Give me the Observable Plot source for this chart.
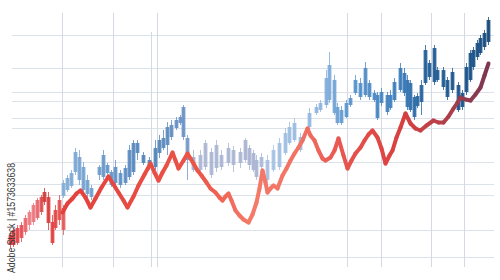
<!DOCTYPE html>
<html>
<head>
<meta charset="utf-8">
<script src="https://cdn.jsdelivr.net/npm/d3@7"></script>
<script src="https://cdn.jsdelivr.net/npm/@observablehq/plot@0.6"></script>
<style>
  html, body { margin: 0; padding: 0; background: #ffffff; }
  #chart svg { display: block; }
</style>
</head>
<body>
<div id="chart"></div>
<script>
// ---- data (time index t, price values) ----
const gridPrices = [245, 212, 188, 179, 162, 152, 118, 96, 85, 50, 23];
const gridTimes = [62, 113, 157, 347, 381, 431, 464];
const gridTimeShort = [151];
const gridRange = [13, 267];
const gridShortTop = 248;
const gridSpan = [12, 494];

// red trend line
const lineT = [62,67,72,76,80,85,90,95,101,108,113,118,123,127,133,138,144,150,154,158,162,166,172,175,178,183,187,190,193,197,201,206,210,215,219,222,225,228,231,235,239,243,248,252,256,259,262,265,267,270,273,277,282,286,290,294,298,302,307,310,314,318,322,325,330,334,338,343,347,351,355,360,364,368,372,377,381,385,389,392,396,400,405,410,415,420,426,433,438,443,448,453,457,460,465,470,475,480,484,488];
const lineV = [68,77,82,87,90,83,73,82,93,104,96,88,80,73,84,95,106,117,108,100,108,115,128,120,112,120,127,122,117,110,105,98,92,88,83,80,84,87,80,70,65,61,58,66,78,92,110,98,88,92,95,92,105,112,120,127,133,140,152,145,140,130,122,120,123,130,142,125,112,120,127,133,140,146,150,143,132,117,125,130,143,153,167,157,152,150,155,160,158,158,164,172,178,183,181,180,186,193,205,217];

// blue candles: [t, low, high, bodyLow, bodyHigh]
const blueCandles = [
  [63,82,100,84,97],[67,88,105,90,102],[71,92,110,94,107],[75,105,132,108,128],[79,95,130,100,123],
  [83,88,118,90,113],[87,83,105,86,100],[91,80,95,83,92],[99,100,115,105,113],[103,100,130,103,125],
  [107,105,117,107,115],[111,93,110,95,108],[115,95,120,97,113],[120,92,110,95,107],[125,95,115,97,112],
  [129,100,135,103,130],[133,105,140,108,137],[137,120,140,127,137],[143,115,128,117,125],[149,110,123,113,120],
  [155,110,140,113,132],[159,122,145,127,140],[163,130,150,132,142],[167,125,158,135,153],[171,140,160,143,155],
  [176,150,163,152,160],[180,155,165,157,163],[183,140,175,143,173],[187,100,145,120,142],
  [193,108,130,110,123],[200,105,130,110,125],[205,110,140,113,137],[211,102,132,105,128],[216,108,140,112,135],
  [221,110,130,113,125],[228,114,137,117,132],[233,108,134,115,130],[240,112,132,117,128],[245,118,142,120,140],
  [249,110,135,115,132],[253,108,130,110,127],[256,100,125,103,120],[261,110,127,113,123],[267,98,125,100,120],
  [273,108,135,110,130],[279,110,142,113,137],[285,125,152,127,147],[289,135,158,137,153],[294,138,162,140,157],
  [300,128,147,130,143],[309,150,172,153,167],[316,165,176,167,173],[320,168,180,170,177],[326,172,210,175,202],
  [329,177,228,180,215],[334,165,205,167,200],[337,155,177,157,173],[341,155,174,157,170],[346,162,180,163,177],
  [350,173,185,175,182],[355,185,205,187,200],[360,180,202,183,197],[365,183,218,185,212],[369,180,200,183,197],
  [374,178,190,180,187],[377,160,188,162,185],[381,174,192,177,188],[387,165,188,168,185],[390,170,190,172,185],
  [394,178,202,180,198],[400,188,217,190,212],[404,184,212,187,207],[407,170,205,173,200],[410,168,200,170,197],
  [414,160,185,163,183],[417,172,187,174,184],[421,165,200,178,195],[425,195,235,197,230],[429,200,220,203,217],
  [434,195,235,198,232],[437,198,213,200,210],[443,190,213,193,210],[447,180,203,183,200],[452,187,212,190,208],
  [458,168,198,170,195],[462,170,190,173,187],[466,185,217,188,213],[470,198,230,200,227],[473,210,233,213,230],
  [477,220,240,223,237],[480,225,245,227,242],[484,230,250,233,247],[488,235,263,238,260]
];

// red candles: [t, low, high, bodyLow, bodyHigh]
const redCandles = [
  [10,32,48,35,45],[13,33,52,35,50],[17,35,55,37,52],[21,38,58,42,55],[25,45,65,48,62],
  [29,50,70,55,68],[33,55,77,58,75],[37,60,82,62,80],[41,65,85,68,83],[44,75,92,78,88],
  [48,50,88,57,83],[52,35,65,37,58],[55,50,75,52,70],[59,55,85,60,80],[63,45,75,50,72]
];

const watermark = "Adobe Stock | #1573633638";

// ---- colours ----
const blueColor = d3.scaleLinear()
  .domain([60,100,150,186,195,255,270,320,345,400,425,470,490])
  .range(["#86aed8","#6b9acb","#4f82b8","#6f96c7","#aab6d3","#a9b4d2","#a6c2e3","#8fb4de","#5d97cf","#3b7cba","#245f98","#1a5288","#174a7c"])
  .interpolate(d3.interpolateRgb).clamp(true);
const redCandleColor = d3.scaleLinear()
  .domain([10,20,30,36,44,52,63])
  .range(["#e03a3a","#e4484c","#ee8088","#ea6a72","#d23a3a","#e03e3e","#e65a5a"])
  .clamp(true);
const lineColor = d3.scaleLinear()
  .domain([60,200,250,300,340,400,440,470,490])
  .range(["#e2403c","#ec5548","#f47a68","#f27264","#e95650","#d8403f","#b8404a","#8f3a4e","#7a3652"])
  .clamp(true);

const segs = lineT.slice(1).map((t, i) => ({
  t1: lineT[i], v1: lineV[i], t2: t, v2: lineV[i + 1]
}));

const plot = Plot.plot({
  width: 500,
  height: 280,
  margin: 0,
  style: {background: "#ffffff", fontFamily: "Liberation Sans, Arial, sans-serif"},
  x: {domain: [0, 500], axis: null},
  y: {domain: [0, 280], axis: null},
  marks: [
    Plot.ruleY(gridPrices, {x1: gridSpan[0], x2: gridSpan[1], stroke: "#dce2e9", strokeWidth: 1}),
    Plot.ruleX(gridTimes, {y1: gridRange[0], y2: gridRange[1], stroke: "#d3dae3", strokeWidth: 1}),
    Plot.ruleX(gridTimeShort, {y1: gridRange[0], y2: gridShortTop, stroke: "#d3dae3", strokeWidth: 1}),
    // red candles
    Plot.ruleX(redCandles, {x: d => d[0], y1: d => d[1], y2: d => d[2], stroke: d => redCandleColor(d[0]), strokeWidth: 1, strokeOpacity: 0.8}),
    Plot.ruleX(redCandles, {x: d => d[0], y1: d => d[3], y2: d => d[4], stroke: d => redCandleColor(d[0]), strokeWidth: 3.8, strokeOpacity: 0.9}),
    // blue candles
    Plot.ruleX(blueCandles, {x: d => d[0], y1: d => d[1], y2: d => d[2], stroke: d => blueColor(d[0]), strokeWidth: 1, strokeOpacity: 0.8}),
    Plot.ruleX(blueCandles, {x: d => d[0], y1: d => d[3], y2: d => d[4], stroke: d => blueColor(d[0]), strokeWidth: 3.8, strokeOpacity: 0.92}),
    // red line
    Plot.link(segs, {x1: "t1", y1: "v1", x2: "t2", y2: "v2", stroke: d => lineColor((d.t1 + d.t2) / 2), strokeWidth: 4, strokeLinecap: "round"}),
    // vertical watermark label
    Plot.text([watermark], {x: 11, y: 62.5, text: d => d, rotate: -90, fontSize: 10.5, fill: "#3a3a3a", className: "wm"})
  ]
});
// fit the label to the length it has in the reference
plot.querySelectorAll(".wm text").forEach(t => {
  t.setAttribute("textLength", 110);
  t.setAttribute("lengthAdjust", "spacingAndGlyphs");
});
document.getElementById("chart").appendChild(plot);
</script>
</body>
</html>
